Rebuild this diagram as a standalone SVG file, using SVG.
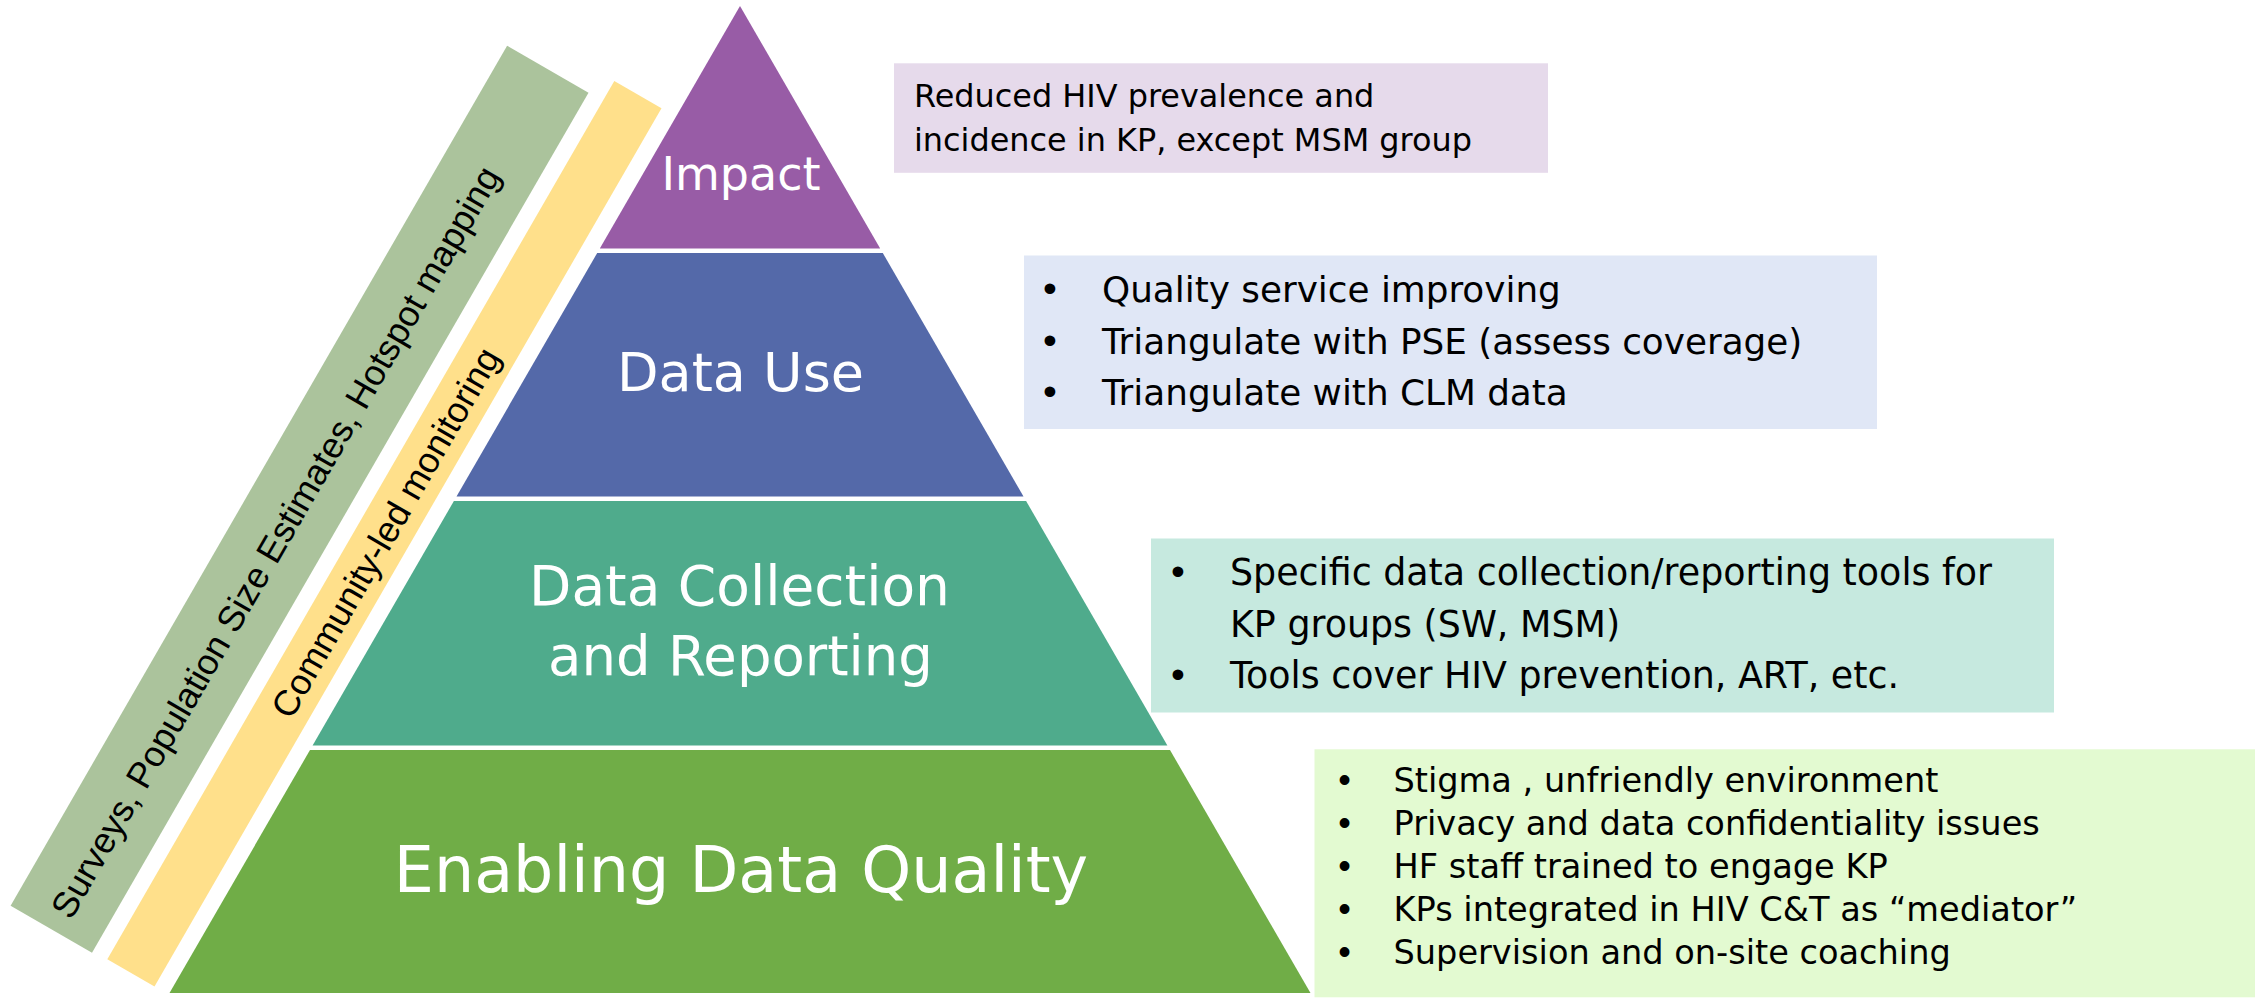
<svg xmlns="http://www.w3.org/2000/svg" width="2264" height="999" viewBox="0 0 2264 999">
<style>
.lbl{font-family:"DejaVu Sans","Liberation Sans",sans-serif;fill:#ffffff;text-anchor:middle}
.txt{font-family:"DejaVu Sans","Liberation Sans",sans-serif;fill:#000000}
.bul{font-family:"Liberation Sans",sans-serif;fill:#000000;text-anchor:middle}
.rot{font-family:"Liberation Sans",sans-serif;font-size:36px;fill:#000000}
</style>
<rect width="2264" height="999" fill="#ffffff"/>
<g id="side-bands" transform="rotate(-60)">
  <g id="surveys-band">
    <rect x="-779" y="462" width="993" height="94" fill="#ABC39C"/>
    <text class="rot" x="-762" y="522">Surveys, Population Size Estimates, Hotspot mapping</text>
  </g>
  <g id="clm-band">
    <rect x="-777" y="572.5" width="1014" height="54.5" fill="#FFE08B"/>
    <text class="rot" x="-268.5" y="612.5" text-anchor="middle">Community-led monitoring</text>
  </g>
</g>
<g id="impact">
  <polygon points="740,6 880.2,248.5 599.8,248.5" fill="#985CA6"/>
  <text class="lbl" x="741" y="190" font-size="46">Impact</text>
</g>
<g id="data-use">
  <polygon points="597.2,253 882.8,253 1023.5,496.5 456.5,496.5" fill="#5469A9"/>
  <text class="lbl" x="740.5" y="391" font-size="54">Data Use</text>
</g>
<g id="data-collection">
  <polygon points="453.9,501 1026.1,501 1167.4,745.5 312.6,745.5" fill="#4FAB8C"/>
  <text class="lbl" x="739.5" y="605" font-size="55">Data Collection</text>
  <text class="lbl" x="740.5" y="675" font-size="54.5">and Reporting</text>
</g>
<g id="enabling">
  <polygon points="310,750 1170,750 1310.5,993 169.5,993" fill="#70AD47"/>
  <text class="lbl" x="741" y="892" font-size="63.5">Enabling Data Quality</text>
</g>
<g id="impact-note">
  <rect x="894" y="63.3" width="654" height="109.5" fill="#E6DAEB"/>
  <text class="txt" font-size="31.9"><tspan x="914" y="106.7">Reduced HIV prevalence and</tspan><tspan x="914" y="150.7">incidence in KP, except MSM group</tspan></text>
</g>
<g id="data-use-note">
  <rect x="1024" y="255.5" width="853" height="173.5" fill="#E0E7F6"/>
  <g class="bul" font-size="39.5"><text x="1050" y="302.3">•</text><text x="1050" y="353.8">•</text><text x="1050" y="405.2">•</text></g>
  <text class="txt" font-size="35.8"><tspan x="1102" y="302.3">Quality service improving</tspan><tspan x="1102" y="353.8">Triangulate with PSE (assess coverage)</tspan><tspan x="1102" y="405.2">Triangulate with CLM data</tspan></text>
</g>
<g id="data-collection-note">
  <rect x="1151" y="538.5" width="903" height="174" fill="#C6E9DF"/>
  <g class="bul" font-size="39.5"><text x="1178" y="585">•</text><text x="1178" y="688.3">•</text></g>
  <text class="txt" font-size="36.4"><tspan x="1230" y="585">Specific data collection/reporting tools for</tspan><tspan x="1230" y="636.7">KP groups (SW, MSM)</tspan><tspan x="1230" y="688.3">Tools cover HIV prevention, ART, etc.</tspan></text>
</g>
<g id="enabling-note">
  <rect x="1314.5" y="749.3" width="940.5" height="248" fill="#E3FAD1"/>
  <g class="bul" font-size="36"><text x="1344.5" y="791.5">•</text><text x="1344.5" y="834.7">•</text><text x="1344.5" y="877.9">•</text><text x="1344.5" y="921">•</text><text x="1344.5" y="964">•</text></g>
  <g class="txt" font-size="33.6">
    <text x="1393.5" y="791.5">Stigma , unfriendly environment</text>
    <text x="1393.5" y="834.7">Privacy and data confidentiality issues</text>
    <text x="1393.5" y="877.9">HF staff trained to engage KP</text>
    <text x="1393.5" y="921">KPs integrated in HIV C&amp;T as “mediator”</text>
    <text x="1393.5" y="964">Supervision and on-site coaching</text>
  </g>
</g>
<g id="connectors"/>
</svg>
